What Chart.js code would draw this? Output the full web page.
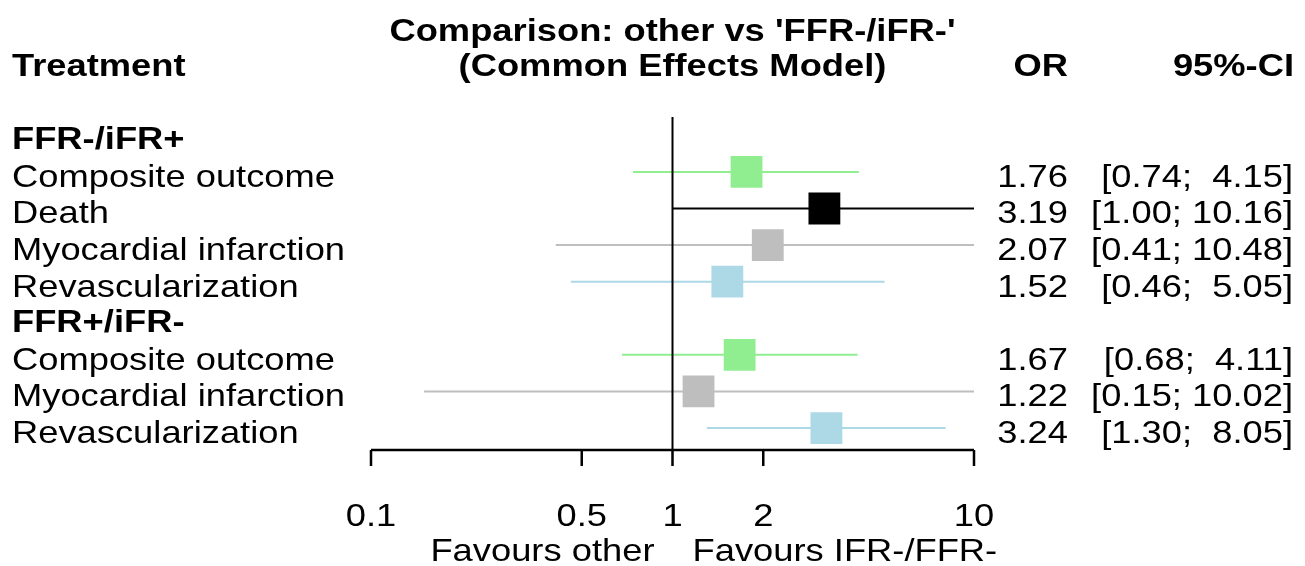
<!DOCTYPE html>
<html>
<head>
<meta charset="utf-8">
<script src="https://cdn.jsdelivr.net/npm/chart.js@4/dist/chart.umd.min.js"></script>
<style>
  html, body { margin: 0; padding: 0; background: #fff; }
  #wrap { width: 1305px; height: 566px; position: relative; }
</style>
</head>
<body>
<div id="wrap"><canvas id="forest"></canvas></div>
<script>
// Forest plot data
const groups = ['FFR-/iFR+', 'FFR+/iFR-'];
const outcomes = ['Composite outcome', 'Death', 'Myocardial infarction', 'Revascularization',
                  'Composite outcome', 'Myocardial infarction', 'Revascularization'];
const groupOf = [0, 0, 0, 0, 1, 1, 1];
const orValues = [1.76, 3.19, 2.07, 1.52, 1.67, 1.22, 3.24];
const ciLower = [0.74, 1.00, 0.41, 0.46, 0.68, 0.15, 1.30];
const ciUpper = [4.15, 10.16, 10.48, 5.05, 4.11, 10.02, 8.05];
const colors = ['#90ee90', '#000000', '#bebebe', '#add8e6', '#90ee90', '#bebebe', '#add8e6'];
const xTicks = [0.1, 0.5, 1, 2, 10];

const FONT = "'Liberation Sans', Arial, Helvetica, sans-serif";
const FS = 32;
const SX = 1.135; // text is a little wide in the original

// work out which row each line of the plot sits on (group headings get their own row)
const rowOf = [];
const headerRow = [];
let r = 0;
outcomes.forEach((o, i) => {
    if (i === 0 || groupOf[i] !== groupOf[i - 1]) {
        headerRow.push(r);
        r++;
    }
    rowOf.push(r);
    r++;
});

function fmt2(v) { return v.toFixed(2); }
function ciText(i) {
    const lo = fmt2(ciLower[i]);
    const hi = fmt2(ciUpper[i]);
    return '[' + lo + ';' + (hi.length < 5 ? '  ' : ' ') + hi + ']';
}

function txt(ctx, s, x, y, align, bold) {
    ctx.save();
    ctx.translate(x, y);
    ctx.scale(SX, 1);
    ctx.font = (bold ? 'bold ' : '') + FS + 'px ' + FONT;
    ctx.textAlign = align;
    ctx.textBaseline = 'alphabetic';
    ctx.fillStyle = '#000';
    ctx.fillText(s, 0, 0);
    ctx.restore();
}

const datasets = [];
// squares
datasets.push({
    data: orValues.map((v, i) => ({ x: v, y: rowOf[i] })),
    pointStyle: 'rect',
    pointRadius: 22.5,
    pointHoverRadius: 22.5,
    backgroundColor: colors,
    borderWidth: 0,
    order: 0
});
// confidence intervals
outcomes.forEach((o, i) => {
    datasets.push({
        data: [{ x: ciLower[i], y: rowOf[i] }, { x: ciUpper[i], y: rowOf[i] }],
        showLine: true,
        borderColor: colors[i],
        borderWidth: 2,
        pointRadius: 0,
        order: 1
    });
});

const forestPlugin = {
    id: 'forestText',
    afterDatasetsDraw(chart) {
        const ctx = chart.ctx;
        const xs = chart.scales.x;
        const ys = chart.scales.y;
        const area = chart.chartArea;
        const x1 = xs.getPixelForValue(1);

        // reference line
        ctx.save();
        ctx.strokeStyle = '#000';
        ctx.lineWidth = 2;
        ctx.beginPath();
        ctx.moveTo(x1, area.top);
        ctx.lineTo(x1, area.bottom);
        ctx.stroke();

        // x axis
        const xa = xs.getPixelForValue(xTicks[0]);
        const xb = xs.getPixelForValue(xTicks[xTicks.length - 1]);
        ctx.lineWidth = 2.5;
        ctx.beginPath();
        ctx.moveTo(xa, area.bottom);
        ctx.lineTo(xb, area.bottom);
        xTicks.forEach(t => {
            const px = xs.getPixelForValue(t);
            ctx.moveTo(px, area.bottom);
            ctx.lineTo(px, area.bottom + 16);
        });
        ctx.stroke();
        ctx.restore();

        xTicks.forEach(t => {
            txt(ctx, String(t), xs.getPixelForValue(t), area.bottom + 76, 'center', false);
        });
        txt(ctx, 'Favours other', x1 - 18, area.bottom + 111, 'right', false);
        txt(ctx, 'Favours IFR-/FFR-', x1 + 20, area.bottom + 111, 'left', false);

        // headings
        txt(ctx, "Comparison: other vs 'FFR-/iFR-'", x1, 41, 'center', true);
        txt(ctx, '(Common Effects Model)', x1, 76, 'center', true);
        txt(ctx, 'Treatment', 12, 76, 'left', true);
        txt(ctx, 'OR', 1068, 76, 'right', true);
        txt(ctx, '95%-CI', 1294, 76, 'right', true);

        // group headings
        headerRow.forEach((hr, g) => {
            txt(ctx, groups[g], 12, ys.getPixelForValue(hr) + 14, 'left', true);
        });
        // study rows
        outcomes.forEach((o, i) => {
            const py = ys.getPixelForValue(rowOf[i]) + 15;
            txt(ctx, o, 12, py, 'left', false);
            txt(ctx, fmt2(orValues[i]), 1068, py, 'right', false);
            txt(ctx, ciText(i), 1293, py, 'right', false);
        });
    }
};

new Chart(document.getElementById('forest'), {
    type: 'scatter',
    data: { datasets: datasets },
    options: {
        responsive: true,
        maintainAspectRatio: false,
        animation: false,
        events: [],
        layout: { padding: { left: 371, right: 331, top: 117, bottom: 116 } },
        scales: {
            x: { type: 'logarithmic', min: 0.1, max: 10, display: false },
            y: { type: 'linear', min: -0.5, max: 8.6, reverse: true, display: false }
        },
        plugins: { legend: { display: false }, tooltip: { enabled: false } }
    },
    plugins: [forestPlugin]
});
</script>
</body>
</html>
